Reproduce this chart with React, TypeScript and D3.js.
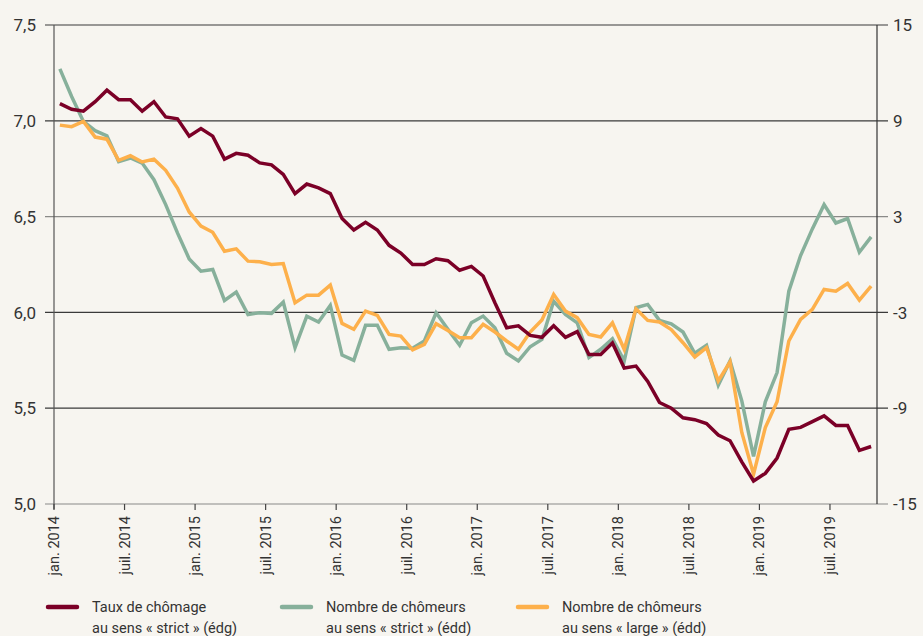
import React from "react";
import * as d3 from "d3";

const W = 923;
const H = 636;

const tauxStrict = [
  7.09, 7.06, 7.05, 7.1, 7.16, 7.11, 7.11, 7.05, 7.1, 7.02,
  7.01, 6.92, 6.96, 6.92, 6.8, 6.83, 6.82, 6.78, 6.77, 6.72,
  6.62, 6.67, 6.65, 6.62, 6.49, 6.43, 6.47, 6.43, 6.35, 6.31,
  6.25, 6.25, 6.28, 6.27, 6.22, 6.24, 6.19, 6.05, 5.92, 5.93,
  5.88, 5.87, 5.93, 5.87, 5.9, 5.78, 5.78, 5.84, 5.71, 5.72,
  5.64, 5.53, 5.5, 5.45, 5.44, 5.42, 5.36, 5.33, 5.22, 5.12,
  5.16, 5.24, 5.39, 5.4, 5.43, 5.46, 5.41, 5.41, 5.28, 5.3,
];

const nombreStrict = [
  12.25, 10.52, 8.96, 8.38, 8.06, 6.44, 6.67, 6.35, 5.31, 3.75,
  1.98, 0.35, -0.42, -0.31, -2.25, -1.73, -3.13, -3.02, -3.06, -2.36,
  -5.21, -3.23, -3.6, -2.56, -5.67, -6.0, -3.81, -3.81, -5.31, -5.21,
  -5.25, -4.79, -3.02, -4.06, -5.06, -3.65, -3.23, -3.96, -5.56, -6.04,
  -5.15, -4.69, -2.3, -3.13, -3.65, -5.83, -5.31, -4.65, -6.04, -2.71,
  -2.5, -3.5, -3.72, -4.23, -5.56, -5.06, -7.56, -6.04, -8.54, -12.02,
  -8.6, -6.77, -1.67, 0.56, 2.23, 3.75, 2.6, 2.88, 0.77, 1.73,
];

const nombreLarge = [
  8.73, 8.63, 8.96, 7.98, 7.85, 6.52, 6.81, 6.42, 6.6, 5.9,
  4.79, 3.29, 2.4, 2.02, 0.83, 0.98, 0.21, 0.17, 0.0, 0.06,
  -2.4, -1.92, -1.92, -1.29, -3.69, -4.06, -2.92, -3.19, -4.38, -4.48,
  -5.35, -5.0, -3.71, -4.13, -4.58, -4.58, -3.75, -4.23, -4.79, -5.31,
  -4.23, -3.48, -1.88, -2.92, -3.33, -4.38, -4.54, -3.65, -5.31, -2.77,
  -3.5, -3.6, -4.08, -4.9, -5.79, -5.21, -7.29, -6.1, -10.52, -13.13,
  -10.21, -8.6, -4.79, -3.44, -2.81, -1.56, -1.67, -1.19, -2.23, -1.35,
];

const leftTicks = [5.0, 5.5, 6.0, 6.5, 7.0, 7.5];
const rightTicks = [-15, -9, -3, 3, 9, 15];
const xTickLabels = [
  "jan. 2014", "juil. 2014", "jan. 2015", "juil. 2015", "jan. 2016", "juil. 2016",
  "jan. 2017", "juil. 2017", "jan. 2018", "juil. 2018", "jan. 2019", "juil. 2019",
];

const legendItems = [
  { l1: "Taux de chômage", l2: "au sens « strict » (édg)", color: "#7b0027" },
  { l1: "Nombre de chômeurs", l2: "au sens « strict » (édd)", color: "#87b09b" },
  { l1: "Nombre de chômeurs", l2: "au sens « large » (édd)", color: "#fdb04b" },
];

const FONT = "Roboto, 'Liberation Sans', sans-serif";

export default function App() {
  const left = 54;
  const right = 877;
  const top = 25;
  const bottom = 504;
  const nMonths = 70;

  const x = d3.scaleLinear().domain([0, nMonths]).range([left, right]);
  const yL = d3.scaleLinear().domain([5, 7.5]).range([bottom, top]);
  const yR = d3.scaleLinear().domain([-15, 15]).range([bottom, top]);

  const lineL = d3
    .line<number>()
    .x((_, i) => x(i + 0.5))
    .y((d) => yL(d));
  const lineR = d3
    .line<number>()
    .x((_, i) => x(i + 0.5))
    .y((d) => yR(d));

  const gridColor = (v: number) => (v === 6.5 || v === 5.0 ? "#8a8a88" : "#3a3a3a");

  return (
    <div style={{ position: "fixed", left: 0, top: 0, width: W, height: H }}>
      <svg width={W} height={H} style={{ display: "block", fontFamily: FONT }}>
        <rect x={0} y={0} width={W} height={H} fill="#f7f5f0" />
        {leftTicks.map((t) => (
          <g key={"l" + t}>
            <line x1={left - 9} x2={right + 11} y1={yL(t)} y2={yL(t)} stroke={gridColor(t)} strokeWidth={1.2} />
            <text x={36} y={yL(t)} dy="0.36em" textAnchor="end" fontSize={17} fill="#333">
              {t.toFixed(1).replace(".", ",")}
            </text>
          </g>
        ))}
        {rightTicks.map((t) => (
          <text key={"r" + t} x={893} y={yR(t)} dy="0.36em" textAnchor="start" fontSize={17} fill="#333">
            {t}
          </text>
        ))}
        <line x1={left} x2={left} y1={top} y2={bottom + 5} stroke="#555" strokeWidth={1.2} />
        <line x1={right} x2={right} y1={top} y2={bottom} stroke="#333" strokeWidth={1.2} />
        {xTickLabels.map((lab, i) => {
          const xv = x(i * 6);
          return (
            <g key={lab}>
              <line x1={xv} x2={xv} y1={bottom} y2={bottom + 6} stroke="#444" strokeWidth={1.2} />
              <text
                transform={`translate(${xv + 5},${bottom + 12}) rotate(-90)`}
                textAnchor="end"
                fontSize={14.5}
                fill="#333"
              >
                {lab}
              </text>
            </g>
          );
        })}
        <path d={lineR(nombreStrict) || ""} fill="none" stroke="#87b09b" strokeWidth={3.5} />
        <path d={lineR(nombreLarge) || ""} fill="none" stroke="#fdb04b" strokeWidth={3.5} />
        <path d={lineL(tauxStrict) || ""} fill="none" stroke="#7b0027" strokeWidth={3.5} />
        {legendItems.map((it, i) => {
          const lx = [48, 282, 518][i];
          return (
            <g key={i}>
              <line x1={lx} x2={lx + 29} y1={607} y2={607} stroke={it.color} strokeWidth={4.5} strokeLinecap="round" />
              <text x={lx + 44} y={612} fontSize={14.5} fill="#333">
                {it.l1}
              </text>
              <text x={lx + 44} y={633} fontSize={14.5} fill="#333">
                {it.l2}
              </text>
            </g>
          );
        })}
      </svg>
    </div>
  );
}
